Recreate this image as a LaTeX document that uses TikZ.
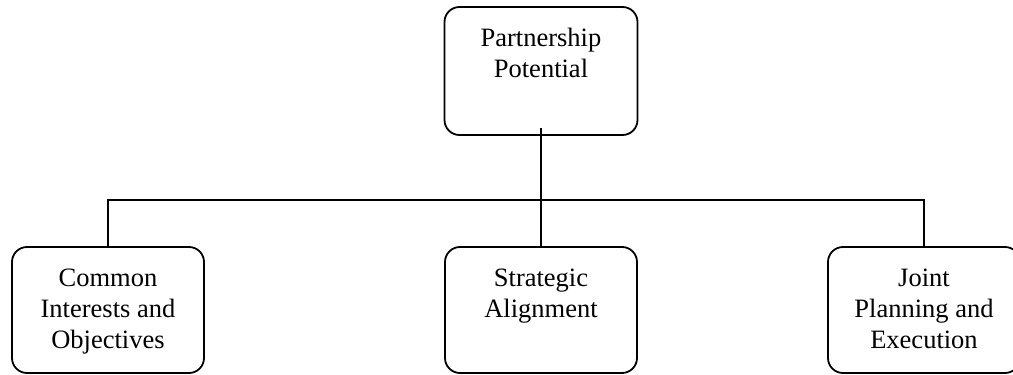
\documentclass[tikz,border=0pt]{standalone}
\usepackage{fontspec}
\setmainfont{Liberation Serif}
\usetikzlibrary{calc}
\begin{document}
\begin{tikzpicture}[x=1pt,y=1pt,
  box/.style={draw=black,line width=1.8pt,rounded corners=15pt,
    minimum width=192pt,minimum height=126pt,inner sep=0pt},
  label/.style={align=center,inner sep=0pt,anchor=north,
    font=\fontsize{26.5}{31}\selectfont},
  link/.style={draw=black,line width=1.8pt}]
  \useasboundingbox (0,0) rectangle (1013,375);
  % boxes
  \node[box,minimum height=128pt,minimum width=193pt] (top) at (541,304) {};
  \node[box] (left) at (108,65) {};
  \node[box] (mid) at (541,65) {};
  \node[box] (right) at (924,65) {};
  % texts, first baseline 40pt below each box top
  \node[label] (ttop) at ($(top.north)+(0,-18.3)$) {\strut Partnership\\Potential};
  \node[label] (tleft) at ($(left.north)+(0,-18.3)$) {\strut Common\\Interests and\\Objectives};
  \node[label] (tmid) at ($(mid.north)+(0,-18.3)$) {\strut Strategic\\Alignment};
  \node[label] (tright) at ($(right.north)+(0,-18.3)$) {\strut Joint\\Planning and\\Execution};
  % connectors
  \coordinate (stem) at ($(top.south)+(0,8)$);
  \coordinate (bus) at ($(top.south)+(0,-64)$);
  \draw[link] (stem) -- (bus);
  \draw[link] (left.north) |- (bus) -| (right.north);
  \draw[link] (bus) -- (mid.north);
\end{tikzpicture}
\end{document}
